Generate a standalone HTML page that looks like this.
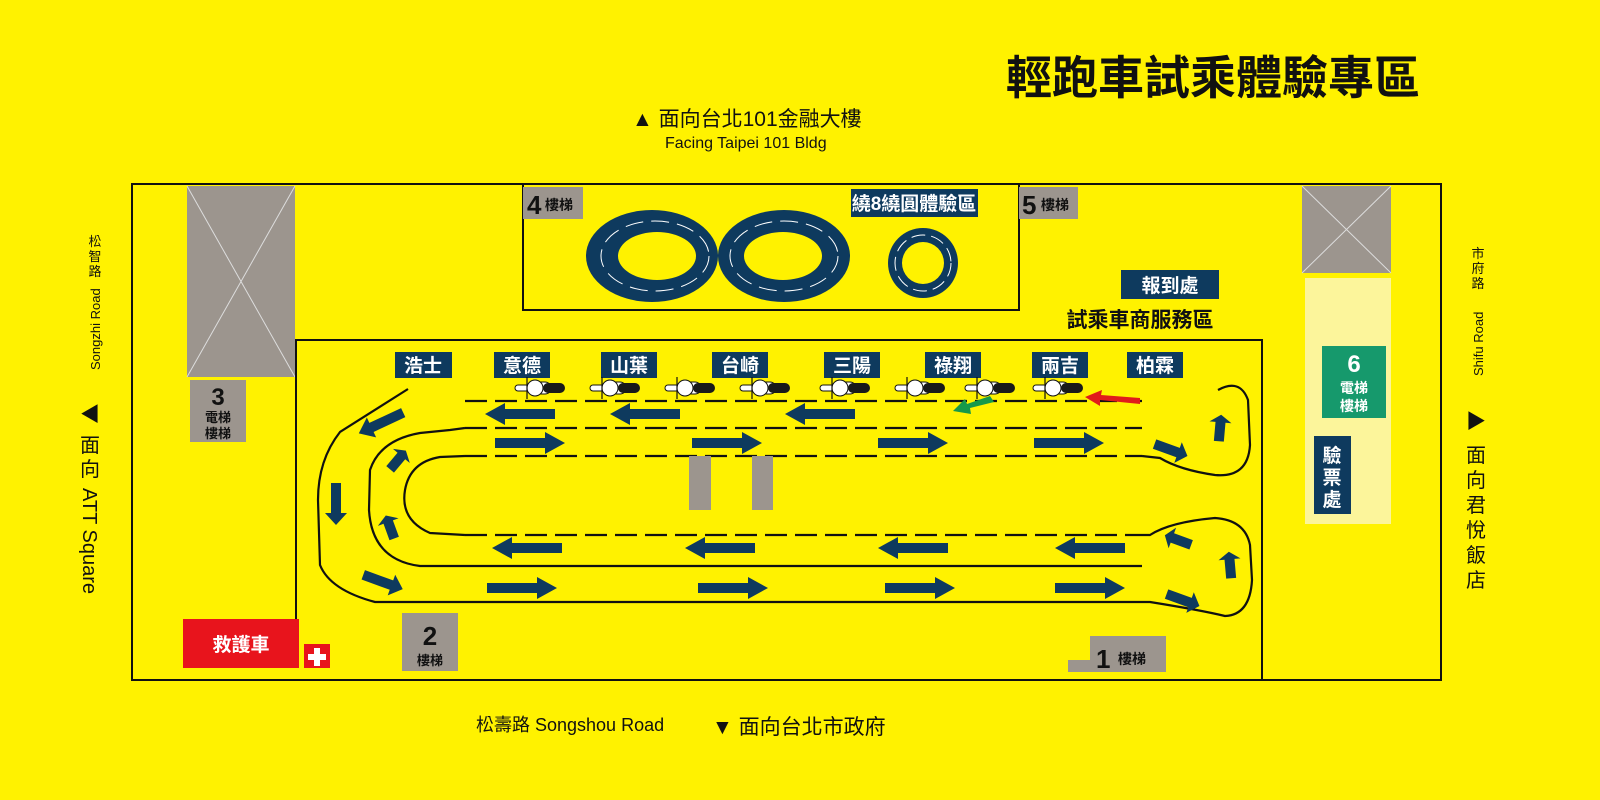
<!DOCTYPE html>
<html><head><meta charset="utf-8"><style>
html,body{margin:0;padding:0;background:#fff200;}
svg{display:block;}
text{font-family:"Liberation Sans","Noto Sans CJK TC",sans-serif;}
.w{fill:#fff;font-weight:bold;font-size:19px;text-anchor:middle;}
.b{fill:#111;font-weight:bold;}
</style></head><body>
<svg width="1600" height="800" viewBox="0 0 1600 800" xmlns="http://www.w3.org/2000/svg">
<defs>
<polygon id="ar" points="-35,-5 15,-5 15,-11 35,0 15,11 15,5 -35,5" fill="#0e3a5e"/>
<g id="moto">
<rect x="-6" y="-6" width="22" height="12" rx="6" fill="#fff" stroke="#111" stroke-width="1"/>
<rect x="-20" y="-3" width="14" height="6" rx="3" fill="#fff" stroke="#111" stroke-width="1"/>
<circle cx="0" cy="0" r="8" fill="#fff" stroke="#111" stroke-width="1"/>
<rect x="8" y="-5" width="22" height="10" rx="5" fill="#1a1a1a"/>
<line x1="-8" y1="-11" x2="-8" y2="11" stroke="#111" stroke-width="1.2"/>
</g>
</defs>
<rect width="1600" height="800" fill="#fff200"/>

<text x="1213" y="94" font-size="46" class="b" text-anchor="middle">輕跑車試乘體驗專區</text>
<text x="632" y="126" font-size="21" fill="#111">▲ 面向台北101金融大樓</text>
<text x="665" y="148" font-size="16" fill="#111">Facing Taipei 101 Bldg</text>

<rect x="132" y="184" width="1309" height="496" fill="none" stroke="#111" stroke-width="2"/>
<!-- grey X boxes -->
<rect x="187" y="186" width="108" height="191" fill="#9c958e"/>
<path d="M187 186L295 377M295 186L187 377" stroke="#ddd" stroke-width="1"/>
<rect x="1302" y="186" width="89" height="87" fill="#9c958e"/>
<path d="M1302 186L1391 273M1391 186L1302 273" stroke="#ddd" stroke-width="1"/>
<rect x="1305" y="278" width="86" height="246" fill="#fcf59b"/>
<rect x="1322" y="346" width="64" height="72" fill="#16996c"/>
<text x="1354" y="372" font-size="24" fill="#fff" font-weight="bold" text-anchor="middle">6</text>
<text x="1354" y="393" font-size="14" fill="#fff" font-weight="bold" text-anchor="middle">電梯</text>
<text x="1354" y="411" font-size="14" fill="#fff" font-weight="bold" text-anchor="middle">樓梯</text>
<rect x="1314" y="436" width="37" height="78" fill="#0e3a5e"/>
<text x="1332" y="462" class="w" font-size="18">驗</text>
<text x="1332" y="484" class="w" font-size="18">票</text>
<text x="1332" y="506" class="w" font-size="18">處</text>

<!-- figure 8 area -->
<rect x="523" y="184" width="496" height="126" fill="none" stroke="#111" stroke-width="2"/>
<rect x="523" y="187" width="60" height="32" fill="#9c958e"/>
<text x="527" y="214" font-size="26" class="b">4</text><text x="545" y="210" font-size="14" class="b">樓梯</text>
<rect x="1019" y="187" width="59" height="32" fill="#9c958e"/>
<text x="1022" y="214" font-size="26" class="b">5</text><text x="1041" y="210" font-size="14" class="b">樓梯</text>
<rect x="851" y="189" width="127" height="28" fill="#0e3a5e"/>
<text x="914" y="210" class="w" font-size="18">繞8繞圓體驗區</text>
<ellipse cx="652" cy="256" rx="66" ry="46" fill="#0e3a5e"/>
<ellipse cx="784" cy="256" rx="66" ry="46" fill="#0e3a5e"/>
<ellipse cx="657" cy="256" rx="39" ry="24" fill="#fff200"/>
<ellipse cx="783" cy="256" rx="39" ry="24" fill="#fff200"/>
<circle cx="923" cy="263" r="35" fill="#0e3a5e"/>
<circle cx="914" cy="263" r="0" fill="none"/>
<circle cx="923" cy="263" r="21" fill="#fff200"/>
<ellipse cx="655" cy="256" rx="54" ry="35" fill="none" stroke="#fff" stroke-width="1" stroke-dasharray="18 8"/>
<ellipse cx="784" cy="256" rx="54" ry="35" fill="none" stroke="#fff" stroke-width="1" stroke-dasharray="18 8"/>
<circle cx="923" cy="263" r="28" fill="none" stroke="#fff" stroke-width="1" stroke-dasharray="14 6"/>

<rect x="1121" y="270" width="98" height="29" fill="#0e3a5e"/>
<text x="1170" y="292" class="w" font-size="20">報到處</text>
<text x="1140" y="327" font-size="21" class="b" text-anchor="middle">試乘車商服務區</text>

<!-- big rect -->
<path d="M296 620V340H1262V680" fill="none" stroke="#111" stroke-width="2"/>

<!-- labels -->
<g>
<rect x="395" y="352" width="57" height="26" fill="#0e3a5e"/><text x="423" y="372" class="w">浩士</text>
<rect x="494" y="352" width="56" height="26" fill="#0e3a5e"/><text x="522" y="372" class="w">意德</text>
<rect x="601" y="352" width="56" height="26" fill="#0e3a5e"/><text x="629" y="372" class="w">山葉</text>
<rect x="712" y="352" width="56" height="26" fill="#0e3a5e"/><text x="740" y="372" class="w">台崎</text>
<rect x="824" y="352" width="56" height="26" fill="#0e3a5e"/><text x="852" y="372" class="w">三陽</text>
<rect x="925" y="352" width="56" height="26" fill="#0e3a5e"/><text x="953" y="372" class="w">祿翔</text>
<rect x="1032" y="352" width="56" height="26" fill="#0e3a5e"/><text x="1060" y="372" class="w">兩吉</text>
<rect x="1127" y="352" width="56" height="26" fill="#0e3a5e"/><text x="1155" y="372" class="w">柏霖</text>
</g>

<!-- motos -->
<use href="#moto" x="535" y="388"/><use href="#moto" x="610" y="388"/><use href="#moto" x="685" y="388"/>
<use href="#moto" x="760" y="388"/><use href="#moto" x="840" y="388"/><use href="#moto" x="915" y="388"/>
<use href="#moto" x="985" y="388"/><use href="#moto" x="1053" y="388"/>

<!-- track lines -->
<g fill="none" stroke="#111" stroke-width="2.2">
<line x1="465" y1="401" x2="1142" y2="401" stroke-dasharray="22 8"/>
<line x1="465" y1="428" x2="1142" y2="428" stroke-dasharray="22 8"/>
<line x1="465" y1="456" x2="1142" y2="456" stroke-dasharray="22 8"/>
<line x1="465" y1="535" x2="1142" y2="535" stroke-dasharray="22 8"/>
<path d="M408 389 L340 432 Q318 460 318 500 L320 565 Q330 590 375 602 L1150 602 Q1200 610 1225 616 Q1250 615 1252 580 L1250 545 Q1245 520 1215 518 Q1170 522 1150 535 L1142 535"/>
<path d="M465 428 L450 430 L420 433 Q380 440 370 470 L369 510 Q372 560 420 566 L1142 566"/>
<path d="M465 456 L440 457 Q410 462 405 490 Q400 520 430 533 L465 535"/>
<path d="M1218 390 Q1240 378 1248 400 L1250 445 Q1248 478 1215 475 Q1180 470 1160 458 L1142 456"/>
</g>
<!-- grey bars -->
<rect x="689" y="456" width="22" height="54" fill="#9c958e"/>
<rect x="752" y="456" width="21" height="54" fill="#9c958e"/>

<!-- arrows -->
<g>
<use href="#ar" transform="translate(520,414) rotate(180)"/>
<use href="#ar" transform="translate(645,414) rotate(180)"/>
<use href="#ar" transform="translate(820,414) rotate(180)"/>
<use href="#ar" transform="translate(530,443)"/>
<use href="#ar" transform="translate(727,443)"/>
<use href="#ar" transform="translate(913,443)"/>
<use href="#ar" transform="translate(1069,443)"/>
<use href="#ar" transform="translate(527,548) rotate(180)"/>
<use href="#ar" transform="translate(720,548) rotate(180)"/>
<use href="#ar" transform="translate(913,548) rotate(180)"/>
<use href="#ar" transform="translate(1090,548) rotate(180)"/>
<use href="#ar" transform="translate(522,588)"/>
<use href="#ar" transform="translate(733,588)"/>
<use href="#ar" transform="translate(920,588)"/>
<use href="#ar" transform="translate(1090,588)"/>
<use href="#ar" transform="translate(381,423) rotate(155) scale(0.7,1)"/>
<use href="#ar" transform="translate(336,504) rotate(90) scale(0.6,1)"/>
<use href="#ar" transform="translate(383,582) rotate(20) scale(0.6,1)"/>
<use href="#ar" transform="translate(398,460) rotate(-50) scale(0.35,1)"/>
<use href="#ar" transform="translate(390,527) rotate(-110) scale(0.35,1)"/>
<use href="#ar" transform="translate(1171,450) rotate(20) scale(0.5,1)"/>
<use href="#ar" transform="translate(1220,428) rotate(-85) scale(0.38,1)"/>
<use href="#ar" transform="translate(1178,540) rotate(-160) scale(0.4,1)"/>
<use href="#ar" transform="translate(1230,565) rotate(-95) scale(0.38,1)"/>
<use href="#ar" transform="translate(1183,600) rotate(20) scale(0.5,1)"/>
</g>
<polygon points="1140,398 1140,404 1100,400 1100,406 1085,397 1102,390 1101,395" fill="#e01b1b"/>
<polygon points="990,396 994,402 970,408 971,414 953,411 965,399 967,404" fill="#16994a"/>

<!-- stairs -->
<rect x="190" y="380" width="56" height="62" fill="#9c958e"/>
<text x="218" y="405" font-size="24" class="b" text-anchor="middle">3</text>
<text x="218" y="422" font-size="13" class="b" text-anchor="middle">電梯</text>
<text x="218" y="438" font-size="13" class="b" text-anchor="middle">樓梯</text>
<rect x="402" y="613" width="56" height="58" fill="#9c958e"/>
<text x="430" y="645" font-size="26" class="b" text-anchor="middle">2</text>
<text x="430" y="665" font-size="13" class="b" text-anchor="middle">樓梯</text>
<path d="M1090 636H1166V672H1068V660H1090Z" fill="#9c958e"/>
<text x="1096" y="668" font-size="26" class="b">1</text>
<text x="1118" y="664" font-size="14" class="b">樓梯</text>

<rect x="183" y="619" width="116" height="49" fill="#e8141c"/>
<text x="241" y="651" class="w" font-size="20">救護車</text>
<rect x="304" y="644" width="26" height="24" fill="#e8141c"/>
<path d="M314 648h6v6h6v6h-6v6h-6v-6h-6v-6h6z" fill="#fff"/>

<!-- bottom -->
<text x="476" y="731" font-size="18" fill="#111">松壽路 Songshou Road</text>
<text x="712" y="734" font-size="21" fill="#111">▼ 面向台北市政府</text>

<!-- left -->
<text x="95" y="246" font-size="13" fill="#111" text-anchor="middle">松</text>
<text x="95" y="261" font-size="13" fill="#111" text-anchor="middle">智</text>
<text x="95" y="276" font-size="13" fill="#111" text-anchor="middle">路</text>
<text transform="translate(100,370) rotate(-90)" font-size="13" fill="#111">Songzhi Road</text>
<text x="90" y="421" font-size="20" fill="#111" text-anchor="middle">◀</text>
<text x="90" y="452" font-size="20" fill="#111" text-anchor="middle">面</text>
<text x="90" y="476" font-size="20" fill="#111" text-anchor="middle">向</text>
<text transform="translate(83,488) rotate(90)" font-size="20" fill="#111">ATT Square</text>
<!-- right -->
<text x="1478" y="258" font-size="13" fill="#111" text-anchor="middle">市</text>
<text x="1478" y="273" font-size="13" fill="#111" text-anchor="middle">府</text>
<text x="1478" y="288" font-size="13" fill="#111" text-anchor="middle">路</text>
<text transform="translate(1483,376) rotate(-90)" font-size="13" fill="#111">Shifu Road</text>
<text x="1476" y="428" font-size="20" fill="#111" text-anchor="middle">▶</text>
<text x="1476" y="462" font-size="20" fill="#111" text-anchor="middle">面</text>
<text x="1476" y="487" font-size="20" fill="#111" text-anchor="middle">向</text>
<text x="1476" y="512" font-size="20" fill="#111" text-anchor="middle">君</text>
<text x="1476" y="537" font-size="20" fill="#111" text-anchor="middle">悅</text>
<text x="1476" y="562" font-size="20" fill="#111" text-anchor="middle">飯</text>
<text x="1476" y="587" font-size="20" fill="#111" text-anchor="middle">店</text>
</svg>
</body></html>
